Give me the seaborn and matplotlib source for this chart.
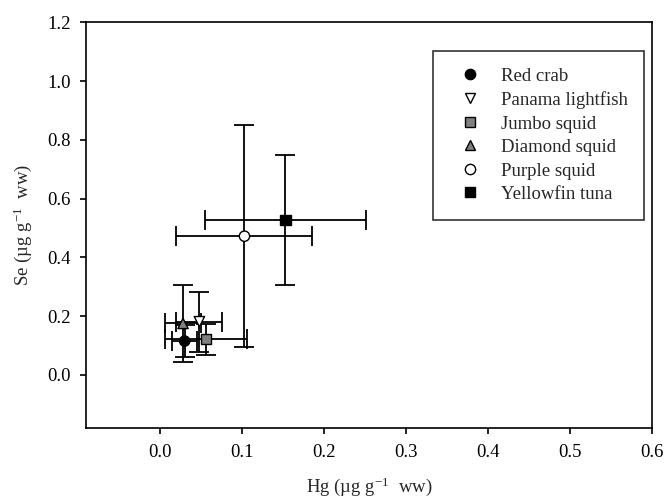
import matplotlib
matplotlib.use("Agg")
import matplotlib.pyplot as plt
import seaborn as sns
import pandas as pd

# species means and SD
species = ["Red crab", "Panama lightfish", "Jumbo squid",
           "Diamond squid", "Purple squid", "Yellowfin tuna"]
hg_mean = [0.030, 0.048, 0.056, 0.028, 0.103, 0.153]
hg_sd = [0.015, 0.028, 0.050, 0.022, 0.083, 0.098]
se_mean = [0.115, 0.181, 0.121, 0.175, 0.472, 0.526]
se_sd = [0.055, 0.102, 0.053, 0.130, 0.377, 0.221]

face_colors = ["black", "white", "#808080", "#808080", "white", "black"]
marker_shapes = ["o", "v", "s", "^", "o", "s"]

df = pd.DataFrame({"species": species, "hg": hg_mean, "hg_sd": hg_sd,
                   "se": se_mean, "se_sd": se_sd})

sns.set_style("ticks")
plt.rcParams["font.family"] = ["Liberation Serif", "DejaVu Serif"]
plt.rcParams["mathtext.fontset"] = "custom"
plt.rcParams["mathtext.rm"] = "Liberation Serif"

fig = plt.figure(figsize=(6.66, 4.97), dpi=100)
ax = fig.add_axes([0.1296, 0.1394, 0.849, 0.8156])

ax.errorbar(df["hg"], df["se"], xerr=df["hg_sd"], yerr=df["se_sd"],
            fmt="none", ecolor="black", elinewidth=1.3, capsize=7,
            capthick=1.3, zorder=2)

sns.scatterplot(data=df, x="hg", y="se", hue="species", style="species",
                palette=dict(zip(species, face_colors)),
                markers=dict(zip(species, marker_shapes)),
                hue_order=species, style_order=species,
                s=55, edgecolor="black", linewidth=1.0, zorder=3, ax=ax)

ax.set_xlim(-0.09, 0.6)
ax.set_ylim(-0.18, 1.2)
ax.set_xticks([0.0, 0.1, 0.2, 0.3, 0.4, 0.5, 0.6])
ax.set_yticks([0.0, 0.2, 0.4, 0.6, 0.8, 1.0, 1.2])
ax.xaxis.set_major_formatter(matplotlib.ticker.FormatStrFormatter("%.1f"))
ax.yaxis.set_major_formatter(matplotlib.ticker.FormatStrFormatter("%.1f"))

for s in ax.spines.values():
    s.set_visible(True)
    s.set_linewidth(1.2)
    s.set_color("black")
ax.tick_params(direction="out", length=4, width=1.2, labelsize=13.5,
               colors="black")
ax.tick_params(axis="x", pad=8)
ax.tick_params(axis="y", pad=7)

ax.set_xlabel(r"Hg (µg g$\mathregular{^{-1}}$  ww)", fontsize=13.5, labelpad=10)
ax.set_ylabel(r"Se (µg g$\mathregular{^{-1}}$  ww)", fontsize=13.5, labelpad=10)

leg = ax.legend(loc="upper left", bbox_to_anchor=(0.613, 0.929),
                fontsize=13.5, frameon=True, fancybox=False,
                labelspacing=0.34, borderpad=0.88, handlelength=2.2,
                handletextpad=0.55, borderaxespad=0)
leg.get_frame().set_edgecolor("black")
leg.get_frame().set_linewidth(1.2)

fig.savefig("out.png", dpi=100)
